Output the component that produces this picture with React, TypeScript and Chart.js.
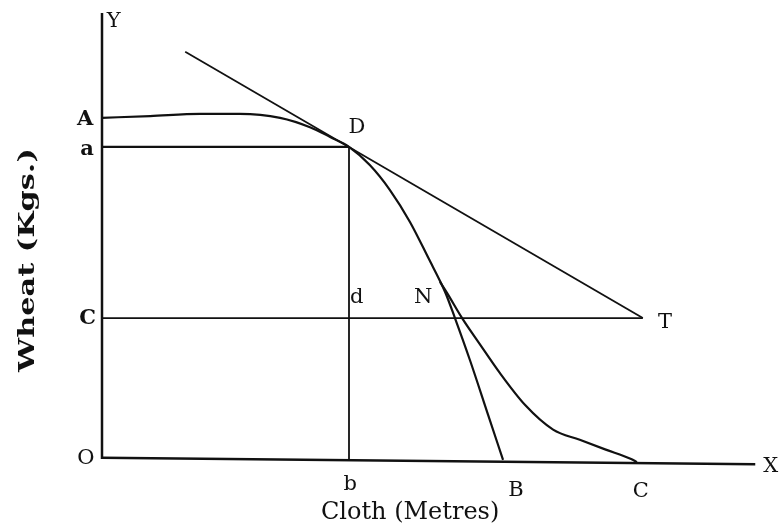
import React, { useEffect, useRef } from "react";
import { Chart, registerables } from "chart.js";

Chart.register(...registerables);

// Abstract units: cloth (x) 0..100, wheat (y) 0..100
const yAxisLine = [{ x: 0, y: 0 }, { x: 0, y: 100 }];
const xAxisLine = [{ x: 0, y: 0.3 }, { x: 100.5, y: -1.2 }];

const curveAB = [
  { x: 0, y: 76.5 }, { x: 7.4, y: 76.9 }, { x: 15.1, y: 77.4 }, { x: 21.2, y: 77.4 },
  { x: 27.4, y: 76.5 }, { x: 32, y: 74.4 }, { x: 35.1, y: 72.2 }, { x: 38, y: 70 },
  { x: 41.2, y: 65.9 }, { x: 44.3, y: 60.3 }, { x: 47.4, y: 53.1 }, { x: 50.2, y: 45.1 },
  { x: 52.8, y: 37.4 }, { x: 54.3, y: 31.6 }, { x: 56.6, y: 22.2 }, { x: 59.4, y: 9.9 },
  { x: 61.7, y: -0.2 },
];

const curveNC = [
  { x: 52, y: 39.7 }, { x: 53.1, y: 37.2 }, { x: 55.4, y: 31.6 }, { x: 58.2, y: 25.6 },
  { x: 61.2, y: 19.3 }, { x: 65.1, y: 12.1 }, { x: 69.4, y: 6.6 }, { x: 73.5, y: 4.3 },
  { x: 77.5, y: 2.1 }, { x: 81.4, y: 0 }, { x: 82.3, y: -0.7 },
];

const tangentLine = [{ x: 12.8, y: 91.3 }, { x: 83.2, y: 31.6 }];
const lineAD = [{ x: 0, y: 70 }, { x: 38, y: 70 }];
const lineDb = [{ x: 38, y: 70 }, { x: 38, y: 0 }];
const lineCT = [{ x: 0, y: 31.6 }, { x: 83.2, y: 31.6 }];

const pointLabels = ["Y", "A", "a", "D", "C", "d", "N", "T", "O", "b", "B", "C", "X"];
const labelX = [1.8, -2.6, -2.3, 39.2, -2.2, 39.2, 49.4, 86.6, -2.5, 38.2, 63.7, 82.9, 102.9];
const labelY = [98, 76, 69.3, 74.4, 31.6, 36.1, 36.1, 30.7, 0.2, -5.8, -7, -7.4, -1.8];
const labelBold = [false, true, true, false, true, false, false, false, false, false, false, false, false];

const xTitle = "Cloth (Metres)";
const yTitle = "Wheat (Kgs.)";
const xTitlePos = { x: 47.4, y: -12 };
const yTitlePos = { x: -11.4, y: 44.6 };

const FONT = '"DejaVu Serif", "Liberation Serif", serif';

const labelsPlugin = {
  id: "labels",
  afterDraw(chart: any) {
    const { ctx, scales } = chart;
    const xs = scales.x;
    const ys = scales.y;
    ctx.save();
    ctx.fillStyle = "#111";
    ctx.textAlign = "center";
    ctx.textBaseline = "middle";
    pointLabels.forEach((t, i) => {
      ctx.font = (labelBold[i] ? "bold " : "") + "21px " + FONT;
      ctx.fillText(t, xs.getPixelForValue(labelX[i]), ys.getPixelForValue(labelY[i]));
    });
    ctx.font = "24px " + FONT;
    ctx.fillText(xTitle, xs.getPixelForValue(xTitlePos.x), ys.getPixelForValue(xTitlePos.y));
    ctx.save();
    ctx.translate(xs.getPixelForValue(yTitlePos.x), ys.getPixelForValue(yTitlePos.y));
    ctx.rotate(-Math.PI / 2);
    ctx.scale(1.32, 1);
    ctx.font = "bold 23px " + FONT;
    ctx.fillText(yTitle, 0, 0);
    ctx.restore();
    ctx.restore();
  },
};

function ds(data: any[], width = 2, curved = false) {
  return {
    data,
    showLine: true,
    borderColor: "#111",
    borderWidth: width,
    pointRadius: 0,
    fill: false,
    clip: false as any,
    tension: curved ? 0.4 : 0,
    cubicInterpolationMode: curved ? ("monotone" as any) : ("default" as any),
  };
}

export default function App() {
  const ref = useRef<HTMLCanvasElement | null>(null);
  useEffect(() => {
    if (!ref.current) return;
    const chart = new Chart(ref.current, {
      type: "scatter",
      data: {
        datasets: [
          ds(yAxisLine, 2.5),
          ds(xAxisLine, 2.5),
          ds(curveAB, 2.2, true),
          ds(curveNC, 2.2, true),
          ds(tangentLine, 1.8),
          ds(lineAD, 2.2),
          ds(lineDb, 1.8),
          ds(lineCT, 1.8),
        ],
      },
      options: {
        responsive: false,
        animation: false,
        layout: { padding: { left: 102, top: 13, right: 29, bottom: 68 } },
        plugins: { legend: { display: false }, tooltip: { enabled: false } },
        scales: {
          x: { type: "linear", min: 0, max: 100, display: false },
          y: { type: "linear", min: 0, max: 100, display: false },
        },
      },
      plugins: [labelsPlugin],
    });
    return () => chart.destroy();
  }, []);
  return (
    <div style={{ position: "absolute", left: 0, top: 0, width: 781, height: 527, background: "#fff" }}>
      <canvas ref={ref} width={781} height={527} />
    </div>
  );
}
